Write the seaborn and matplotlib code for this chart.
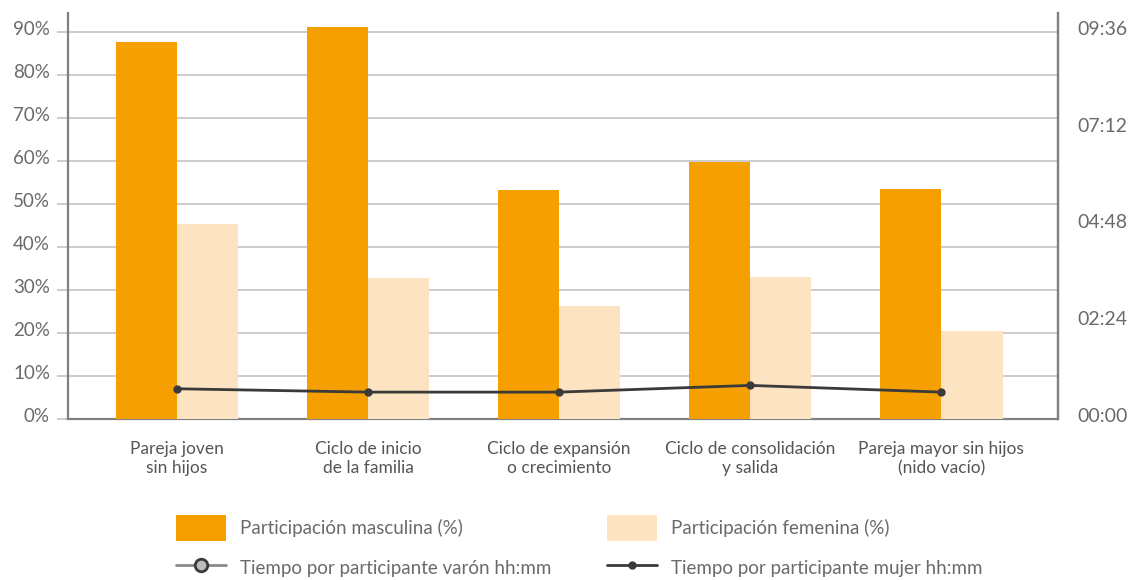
import matplotlib
matplotlib.use("Agg")
import matplotlib.pyplot as plt
from matplotlib.lines import Line2D
from matplotlib.patches import Patch
from matplotlib.ticker import FuncFormatter, MultipleLocator, FixedLocator
from matplotlib.transforms import ScaledTranslation
import seaborn as sns
import pandas as pd

# Etapas del ciclo de vida familiar
etapas = ["Pareja joven\nsin hijos", "Ciclo de inicio\nde la familia",
          "Ciclo de expansión\no crecimiento", "Ciclo de consolidación\ny salida",
          "Pareja mayor sin hijos\n(nido vacío)"]
part_masculina = [87.7, 91.2, 53.3, 59.8, 53.5]   # %
part_femenina = [45.3, 32.8, 26.3, 33.0, 20.5]    # %
tiempo_mujer_min = [45, 40, 40, 50, 40]           # minutos por participante
serie_m = "Participación masculina (%)"
serie_f = "Participación femenina (%)"
serie_tv = "Tiempo por participante varón hh:mm"
serie_tm = "Tiempo por participante mujer hh:mm"

NARANJA = "#F5A000"
CREMA = "#FCE3C1"
GRIS_TXT = "#6a6a6a"
GRID = "#c4c4c4"
EJE = "#808080"

sns.set_theme(style="white")
plt.rcParams["font.family"] = ["Lato", "DejaVu Sans"]

df = pd.DataFrame({
    "etapa": etapas * 2,
    "valor": part_masculina + part_femenina,
    "serie": [serie_m] * 5 + [serie_f] * 5,
})

fig = plt.figure(figsize=(11.35, 5.8), dpi=100)
ax = fig.add_axes([68 / 1135, 1 - 419 / 580, (1058 - 68) / 1135, (419 - 13) / 580])

sns.barplot(data=df, x="etapa", y="valor", hue="serie", order=etapas,
            palette=[NARANJA, CREMA], width=0.64, saturation=1,
            linewidth=0, legend=False, ax=ax, zorder=3)

ymax = 94.4
ax.set_ylim(0, ymax)
ax.set_xlim(-0.57, 4.61)
ax.yaxis.set_major_locator(MultipleLocator(10))
ax.yaxis.set_major_formatter(FuncFormatter(lambda v, p: f"{v:.0f}%"))
ax.grid(axis="y", color=GRID, linewidth=1.2, zorder=0)
ax.set_axisbelow(True)
ax.set_xlabel("")
ax.set_ylabel("")
ax.tick_params(axis="y", which="both", left=True, right=True, length=8,
               width=1.2, color=GRID, labelsize=13.5, labelcolor=GRIS_TXT, pad=5)
ax.tick_params(axis="x", length=0, labelsize=12.5, labelcolor="#555555", pad=16)
for lbl in ax.get_xticklabels():
    lbl.set_linespacing(1.2)
ax.spines["top"].set_visible(False)
for s in ["left", "right", "bottom"]:
    ax.spines[s].set_color(EJE)
    ax.spines[s].set_linewidth(1.6)

# Eje derecho: horas (09:36 a la altura del 90%)
ax2 = ax.twinx()
horas = [m / 60 for m in tiempo_mujer_min]
ax2.plot(range(len(etapas)), horas, color="#3a3a3a", linewidth=2,
         marker="o", markersize=5, zorder=5)
ax2.set_ylim(0, 9.6 / 90 * ymax)
ax2.yaxis.set_major_locator(FixedLocator([0, 2.4, 4.8, 7.2, 9.6]))
ax2.yaxis.set_major_formatter(
    FuncFormatter(lambda v, p: f"{int(round(v * 60)) // 60:02d}:{int(round(v * 60)) % 60:02d}"))
ax2.tick_params(axis="y", length=0, labelsize=14, labelcolor=GRIS_TXT, pad=14)
ax2.grid(False)
for s in ["top", "left", "bottom"]:
    ax2.spines[s].set_visible(False)
ax2.spines["right"].set_color(EJE)
ax2.spines["right"].set_linewidth(1.6)

# Etiquetas de los ejes verticales un poco por encima de su línea
fig.canvas.draw()
subir = ScaledTranslation(0, 4 / 100, fig.dpi_scale_trans)
for lbl in ax.get_yticklabels() + ax2.get_yticklabels():
    lbl.set_transform(lbl.get_transform() + subir)

h_m = Patch(facecolor=NARANJA, edgecolor="none", label=serie_m)
h_f = Patch(facecolor=CREMA, edgecolor="none", label=serie_f)
h_tv = Line2D([], [], color="#8a8a8a", linewidth=2, marker="o", markersize=9,
              markerfacecolor="#bcbcbc", markeredgecolor="#3a3a3a", markeredgewidth=2,
              label=serie_tv)
h_tm = Line2D([], [], color="#3a3a3a", linewidth=2, marker="o", markersize=5,
              label=serie_tm)

leg_kw = dict(loc="upper left", frameon=False, fontsize=13.5, labelcolor=GRIS_TXT,
              handlelength=2.67, handleheight=1.76, handletextpad=0.72,
              labelspacing=0.75, borderpad=0, borderaxespad=0)
leg1 = fig.legend(handles=[h_m, h_tv], bbox_to_anchor=(176 / 1135, 1 - 515 / 580), **leg_kw)
leg2 = fig.legend(handles=[h_f, h_tm], bbox_to_anchor=(607 / 1135, 1 - 515 / 580), **leg_kw)

fig.savefig("out.png", dpi=100)
